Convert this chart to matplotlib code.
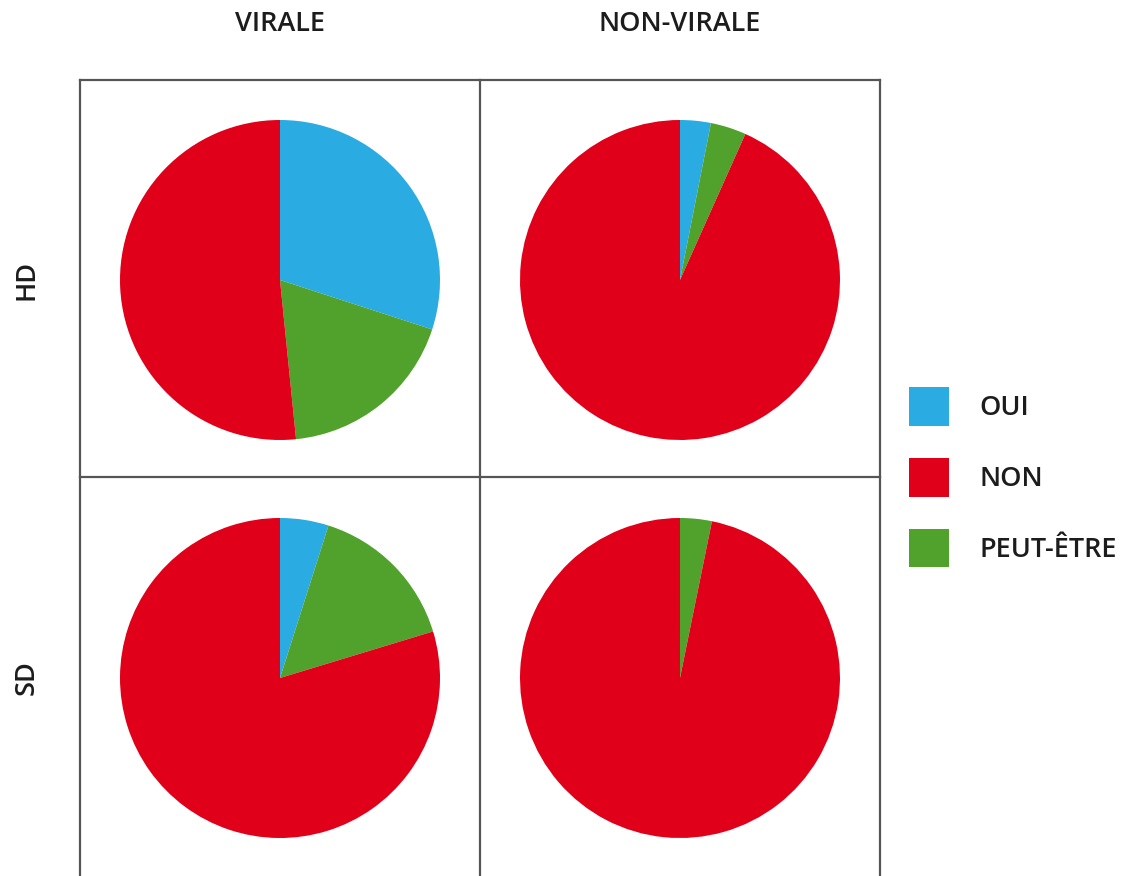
import matplotlib
matplotlib.use('Agg')
import matplotlib.pyplot as plt
from matplotlib.patches import Patch

plt.rcParams['font.family'] = ['Open Sans', 'DejaVu Sans']

# chart data (percent of answers)
rows = ['HD', 'SD']
cols = ['VIRALE', 'NON-VIRALE']
answers = ['OUI', 'NON', 'PEUT-ÊTRE']
oui = [[30.0, 3.1], [4.9, 0.0]]
non = [[51.6, 93.3], [79.7, 96.8]]
peut = [[18.4, 3.6], [15.4, 3.2]]

blue = '#2AABE2'
red = '#E1001A'
green = '#50A22D'
grid_c = '#555555'
txt_c = '#1c1c1c'

W, H = 1128, 876
fig = plt.figure(figsize=(W / 100, H / 100), dpi=100)
ax = fig.add_axes([0, 0, 1, 1])

# cell geometry in pixels (from top-left)
x0, xm, x1 = 80, 480, 880
y0, ym = 80, 477
cell_cx = [280, 680]
cell_cy = [280, 678]
radius = 160

for i in range(2):
    for j in range(2):
        vals = [oui[i][j], peut[i][j], non[i][j]]
        ax.pie(vals, colors=[blue, green, red], startangle=90, counterclock=False,
               radius=radius, center=(cell_cx[j], H - cell_cy[i]),
               wedgeprops=dict(linewidth=0), frame=True)

# grid lines
lw = 1.6
ax.plot([x0, x1], [H - y0, H - y0], color=grid_c, lw=lw)
ax.plot([x0, x1], [H - ym, H - ym], color=grid_c, lw=lw)
for xx in (x0, xm, x1):
    ax.plot([xx, xx], [H - y0, -10], color=grid_c, lw=lw)

# headers
fs = 19.5
for j, c in enumerate(cols):
    ax.text(cell_cx[j], H - 24, c, ha='center', va='center', fontsize=fs,
            fontweight='semibold', color=txt_c)
for i, r in enumerate(rows):
    ax.text(27, H - cell_cy[i], r, ha='center', va='center', rotation=90,
            fontsize=fs, fontweight='semibold', color=txt_c)

# legend
handles = [Patch(facecolor=c, edgecolor='none') for c in (blue, red, green)]
leg = fig.legend(handles, answers, loc='upper left', bbox_to_anchor=(909 / W, 1 - 387 / H),
                 frameon=False, prop=dict(size=fs, weight='semibold'),
                 handlelength=1.47, handleheight=1.83, handletextpad=1.12,
                 labelspacing=1.18, borderaxespad=0, borderpad=0)
for t in leg.get_texts():
    t.set_color(txt_c)

ax.set_xlim(0, W)
ax.set_ylim(0, H)
ax.set_aspect('auto')
ax.axis('off')

plt.savefig('out.png', dpi=100)
